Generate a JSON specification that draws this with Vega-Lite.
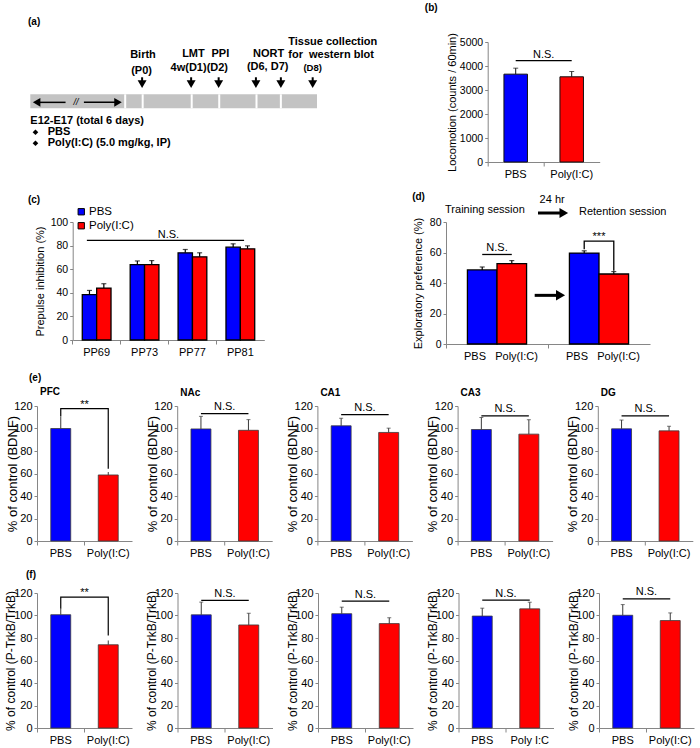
{
  "$schema": "https://vega.github.io/schema/vega-lite/v6.json",
  "background": "white",
  "padding": {"left": 3, "top": 3, "right": 2, "bottom": 2},
  "spacing": 12,
  "resolve": {"scale": {"color": "independent", "xOffset": "independent"}, "legend": {"color": "independent"}},
  "config": {
    "view": {"stroke": null},
    "font": "Liberation Sans",
    "axis": {"labelFont": "Liberation Sans", "titleFont": "Liberation Sans", "labelColor": "#000", "titleColor": "#000", "domainColor": "#868686", "tickColor": "#868686", "grid": false, "titleFontWeight": "normal", "labelOverlap": false},
    "axisX": {"labelAngle": 0, "tickSize": 4, "labelPadding": 2},
    "axisY": {"tickSize": 3, "labelPadding": 2, "titleBaseline": "middle", "tickCount": 12, "labelOverlap": false},
    "title": {"font": "Liberation Sans", "fontSize": 10, "fontWeight": "bold", "anchor": "start", "frame": "group", "color": "#000", "offset": 2},
    "text": {"font": "Liberation Sans", "color": "#000"}
  },
  "datasets": {
    "a_c": [
      {"t": "Birth", "u": 39.3, "v": -3.95},
      {"t": "(P0)", "u": 38.8, "v": -2.6},
      {"t": "LMT", "u": 56.9, "v": -3.97},
      {"t": "PPI", "u": 66.3, "v": -3.97},
      {"t": "4w(D1)(D2)", "u": 58.95, "v": -2.83},
      {"t": "NORT", "u": 83.1, "v": -4.03},
      {"t": "(D6, D7)", "u": 82.8, "v": -2.95},
      {"t": "Tissue collection", "u": 105.5, "v": -5.0},
      {"t": "for\u00a0\u00a0western blot", "u": 104.9, "v": -3.95}
    ],
    "a_l": [
      {"t": "E12-E17 (total 6 days)", "u": 0, "v": 1.55},
      {"t": "PBS", "u": 6.1, "v": 2.52},
      {"t": "Poly(I:C) (5.0 mg/kg, IP)", "u": 6.1, "v": 3.44}
    ],
    "a_seg": [{"u": 33.1}, {"u": 39.2}, {"u": 56.3}, {"u": 65.9}, {"u": 78.9}, {"u": 87.4}],
    "a_ev": [{"u": 39.0}, {"u": 56.1}, {"u": 65.7}, {"u": 78.7}, {"u": 87.4}, {"u": 98.5}],
    "b": [
      {"g": "PBS", "v": 3660, "hi": 3910},
      {"g": "Poly(I:C)", "v": 3550, "hi": 3770}
    ],
    "c": [
      {"pp": "PP69", "g": "PBS", "v": 38.4, "hi": 42},
      {"pp": "PP69", "g": "Poly(I:C)", "v": 44, "hi": 47.7},
      {"pp": "PP73", "g": "PBS", "v": 63.9, "hi": 67},
      {"pp": "PP73", "g": "Poly(I:C)", "v": 63.9, "hi": 67.3},
      {"pp": "PP77", "g": "PBS", "v": 73.9, "hi": 76.7},
      {"pp": "PP77", "g": "Poly(I:C)", "v": 70.5, "hi": 73.9},
      {"pp": "PP81", "g": "PBS", "v": 78.7, "hi": 81.5},
      {"pp": "PP81", "g": "Poly(I:C)", "v": 77.3, "hi": 79.8}
    ],
    "d": [
      {"session": "Training", "g": "PBS", "v": 48.6, "hi": 50.5},
      {"session": "Training", "g": "Poly(I:C)", "v": 52.7, "hi": 54.7},
      {"session": "Retention", "g": "PBS", "v": 59.6, "hi": 61.1},
      {"session": "Retention", "g": "Poly(I:C)", "v": 45.9, "hi": 47.5}
    ],
    "d_sig": [
      {"k": "ns", "session": "Training", "g": "PBS", "y": 58.7, "i": 1},
      {"k": "ns", "session": "Training", "g": "Poly(I:C)", "y": 58.7, "i": 2},
      {"k": "p", "session": "Retention", "g": "PBS", "y": 62.2, "i": 1},
      {"k": "p", "session": "Retention", "g": "PBS", "y": 67.5, "i": 2},
      {"k": "p", "session": "Retention", "g": "Poly(I:C)", "y": 67.5, "i": 3},
      {"k": "p", "session": "Retention", "g": "Poly(I:C)", "y": 48.0, "i": 4}
    ],
    "e": [
      {"region": "PFC", "g": "PBS", "v": 100, "hi": 110.8},
      {"region": "PFC", "g": "Poly(I:C)", "v": 58.7, "hi": 61.3},
      {"region": "NAc", "g": "PBS", "v": 99.6, "hi": 110.8},
      {"region": "NAc", "g": "Poly(I:C)", "v": 98.4, "hi": 107.9},
      {"region": "CA1", "g": "PBS", "v": 102.4, "hi": 109.1},
      {"region": "CA1", "g": "Poly(I:C)", "v": 96.5, "hi": 100.3},
      {"region": "CA3", "g": "PBS", "v": 99.1, "hi": 109.8},
      {"region": "CA3", "g": "Poly(I:C)", "v": 95, "hi": 107.8},
      {"region": "DG", "g": "PBS", "v": 99.7, "hi": 107.5},
      {"region": "DG", "g": "Poly(I:C)", "v": 97.9, "hi": 102}
    ],
    "e_sig": [
      {"region": "PFC", "g": "PBS", "y": 110.8, "i": 1},
      {"region": "PFC", "g": "PBS", "y": 117.6, "i": 2},
      {"region": "PFC", "g": "Poly(I:C)", "y": 117.6, "i": 3},
      {"region": "PFC", "g": "Poly(I:C)", "y": 64.3, "i": 4},
      {"region": "NAc", "g": "PBS", "y": 113.2, "i": 1},
      {"region": "NAc", "g": "Poly(I:C)", "y": 113.2, "i": 2},
      {"region": "CA1", "g": "PBS", "y": 112.4, "i": 1},
      {"region": "CA1", "g": "Poly(I:C)", "y": 112.4, "i": 2},
      {"region": "CA3", "g": "PBS", "y": 111.3, "i": 1},
      {"region": "CA3", "g": "Poly(I:C)", "y": 111.3, "i": 2},
      {"region": "DG", "g": "PBS", "y": 111.3, "i": 1},
      {"region": "DG", "g": "Poly(I:C)", "y": 111.3, "i": 2}
    ],
    "e_lab": [
      {"region": "PFC", "t": "**", "y": 118.2},
      {"region": "NAc", "t": "N.S.", "y": 116.4},
      {"region": "CA1", "t": "N.S.", "y": 115.6},
      {"region": "CA3", "t": "N.S.", "y": 114.5},
      {"region": "DG", "t": "N.S.", "y": 114.5}
    ],
    "f": [
      {"panel": "f1", "g": "PBS", "v": 100.7, "hi": 106},
      {"panel": "f1", "g": "Poly(I:C)", "v": 74, "hi": 77.8},
      {"panel": "f2", "g": "PBS", "v": 100.6, "hi": 111.9},
      {"panel": "f2", "g": "Poly(I:C)", "v": 91.6, "hi": 102},
      {"panel": "f3", "g": "PBS", "v": 101.6, "hi": 107.4},
      {"panel": "f3", "g": "Poly(I:C)", "v": 92.8, "hi": 98},
      {"panel": "f4", "g": "PBS", "v": 99.5, "hi": 106.5},
      {"panel": "f4", "g": "Poly I:C", "v": 105.9, "hi": 111.8},
      {"panel": "f5", "g": "PBS", "v": 100.2, "hi": 109.7},
      {"panel": "f5", "g": "Poly(I:C)", "v": 95.5, "hi": 102.3}
    ],
    "f_sig": [
      {"panel": "f1", "g": "PBS", "y": 106, "i": 1},
      {"panel": "f1", "g": "PBS", "y": 116.4, "i": 2},
      {"panel": "f1", "g": "Poly(I:C)", "y": 116.4, "i": 3},
      {"panel": "f1", "g": "Poly(I:C)", "y": 82.3, "i": 4},
      {"panel": "f2", "g": "PBS", "y": 113.4, "i": 1},
      {"panel": "f2", "g": "Poly(I:C)", "y": 113.4, "i": 2},
      {"panel": "f3", "g": "PBS", "y": 112.7, "i": 1},
      {"panel": "f3", "g": "Poly(I:C)", "y": 112.7, "i": 2},
      {"panel": "f4", "g": "PBS", "y": 113.6, "i": 1},
      {"panel": "f4", "g": "Poly I:C", "y": 113.6, "i": 2},
      {"panel": "f5", "g": "PBS", "y": 114.7, "i": 1},
      {"panel": "f5", "g": "Poly(I:C)", "y": 114.7, "i": 2}
    ],
    "f_lab": [
      {"panel": "f1", "t": "**", "y": 117},
      {"panel": "f2", "t": "N.S.", "y": 116.6},
      {"panel": "f3", "t": "N.S.", "y": 115.9},
      {"panel": "f4", "t": "N.S.", "y": 116.8},
      {"panel": "f5", "t": "N.S.", "y": 117.9}
    ]
  },
  "vconcat": [
    {
      "hconcat": [
        {
          "width": 408, "height": 120,
          "layer": [
            {"data": {"values": [{"u": 0, "u2": 100, "v": -0.64, "v2": 0.53}]},
             "mark": {"type": "rect", "fill": "#c3c3c3"},
             "encoding": {
               "x": {"field": "u", "type": "quantitative", "scale": {"domain": [2.34, 144.65], "nice": false, "zero": false}, "axis": null},
               "x2": {"field": "u2"},
               "y": {"field": "v", "type": "quantitative", "scale": {"domain": [-5, 5], "reverse": true, "nice": false, "zero": false}, "axis": null},
               "y2": {"field": "v2"}}},
            {"data": {"name": "a_seg"},
             "mark": {"type": "rule", "color": "white", "strokeWidth": 2},
             "encoding": {"x": {"field": "u", "type": "quantitative", "axis": null}, "y": {"datum": -0.64, "axis": null}, "y2": {"datum": 0.53}}},
            {"data": {"name": "a_ev"},
             "mark": {"type": "rule", "color": "black", "strokeWidth": 2},
             "encoding": {"x": {"field": "u", "type": "quantitative", "axis": null}, "y": {"datum": -2.06, "axis": null}, "y2": {"datum": -1.7}}},
            {"data": {"name": "a_ev"},
             "mark": {"type": "point", "shape": "triangle-down", "filled": true, "color": "black", "size": 80, "opacity": 1},
             "encoding": {"x": {"field": "u", "type": "quantitative", "axis": null}, "y": {"datum": -1.48, "axis": null}}},
            {"data": {"values": [{"u": 2.0, "u2": 12.3}, {"u": 18.7, "u2": 30.8}]},
             "mark": {"type": "rule", "color": "black", "strokeWidth": 1.5},
             "encoding": {"x": {"field": "u", "type": "quantitative", "axis": null}, "x2": {"field": "u2"}, "y": {"datum": 0.03, "axis": null}}},
            {"data": {"values": [{"u": 2.2, "end": "start"}, {"u": 30.6, "end": "end"}]},
             "mark": {"type": "point", "filled": true, "color": "black", "size": 75, "opacity": 1},
             "encoding": {"x": {"field": "u", "type": "quantitative", "axis": null}, "y": {"datum": 0.03, "axis": null},
               "shape": {"field": "end", "type": "nominal", "scale": {"domain": ["start", "end"], "range": ["triangle-left", "triangle-right"]}, "legend": null}}},
            {"data": {"values": [{"t": "//", "u": 15.9, "v": 0.03}]},
             "mark": {"type": "text", "fontSize": 9, "fontStyle": "italic", "baseline": "middle"},
             "encoding": {"x": {"field": "u", "type": "quantitative", "axis": null}, "y": {"field": "v", "type": "quantitative", "axis": null}, "text": {"field": "t"}}},
            {"data": {"values": [{"v": 2.52}, {"v": 3.44}]},
             "mark": {"type": "point", "shape": "diamond", "filled": true, "color": "black", "size": 32, "opacity": 1},
             "encoding": {"x": {"datum": 1.8, "axis": null}, "y": {"field": "v", "type": "quantitative", "axis": null}}},
            {"data": {"name": "a_c"},
             "mark": {"type": "text", "fontSize": 11, "fontWeight": "bold", "align": "center", "baseline": "middle"},
             "encoding": {"x": {"field": "u", "type": "quantitative", "axis": null}, "y": {"field": "v", "type": "quantitative", "axis": null}, "text": {"field": "t"}}},
            {"data": {"name": "a_l"},
             "mark": {"type": "text", "fontSize": 11, "fontWeight": "bold", "align": "left", "baseline": "middle"},
             "encoding": {"x": {"field": "u", "type": "quantitative", "axis": null}, "y": {"field": "v", "type": "quantitative", "axis": null}, "text": {"field": "t"}}},
            {"data": {"values": [{"t": "(D8)", "u": 98.5, "v": -2.81}]},
             "mark": {"type": "text", "fontSize": 9.5, "fontWeight": "bold", "align": "center", "baseline": "middle"},
             "encoding": {"x": {"field": "u", "type": "quantitative", "axis": null}, "y": {"field": "v", "type": "quantitative", "axis": null}, "text": {"field": "t"}}},
            {"data": {"values": [{"t": "(a)", "u": -0.8, "v": -6.64}]},
             "mark": {"type": "text", "fontSize": 10, "fontWeight": "bold", "align": "left", "baseline": "middle"},
             "encoding": {"x": {"field": "u", "type": "quantitative", "axis": null}, "y": {"field": "v", "type": "quantitative", "axis": null}, "text": {"field": "t"}}}
          ]
        },
        {
          "width": 112, "height": 120,
          "layer": [
            {"data": {"name": "b"},
             "mark": {"type": "bar", "stroke": "#111", "strokeWidth": 1},
             "encoding": {
               "x": {"field": "g", "type": "nominal", "scale": {"paddingInner": 0.58, "paddingOuter": 0.29}, "axis": {"title": null, "labelFontSize": 11, "bandPosition": -0.69}},
               "y": {"field": "v", "type": "quantitative", "scale": {"domain": [0, 5000]}, "axis": {"title": "Locomotion (counts / 60min)", "values": [0, 1000, 2000, 3000, 4000, 5000], "tickCount": 12, "labelOverlap": false, "format": "d", "titleX": -35, "titleFontSize": 11, "labelFontSize": 10.5}},
               "color": {"condition": {"test": "datum.g == 'PBS'", "value": "#0000ff"}, "value": "#ff0000"}}},
            {"data": {"name": "b"},
             "mark": {"type": "rule", "color": "#111", "strokeWidth": 1},
             "encoding": {"x": {"field": "g", "type": "nominal"}, "y": {"field": "v", "type": "quantitative"}, "y2": {"field": "hi"}}},
            {"data": {"name": "b"},
             "mark": {"type": "tick", "color": "#111", "size": 5, "thickness": 1},
             "encoding": {"x": {"field": "g", "type": "nominal"}, "y": {"field": "hi", "type": "quantitative"}}},
            {"data": {"values": [{"g": "PBS", "y": 4220, "i": 1}, {"g": "Poly(I:C)", "y": 4220, "i": 2}]},
             "mark": {"type": "line", "color": "black", "strokeWidth": 1.2},
             "encoding": {"x": {"field": "g", "type": "nominal"}, "y": {"field": "y", "type": "quantitative"}, "order": {"field": "i"}}},
            {"data": {"values": [{"t": "N.S.", "y": 4330}]},
             "mark": {"type": "text", "fontSize": 11, "baseline": "alphabetic"},
             "encoding": {"x": {"datum": "PBS", "bandPosition": 1.69}, "y": {"field": "y", "type": "quantitative"}, "text": {"field": "t"}}},
            {"data": {"values": [{"t": "(b)", "y": 6404}]},
             "mark": {"type": "text", "fontSize": 10, "fontWeight": "bold", "baseline": "middle"},
             "encoding": {"x": {"datum": "PBS", "bandPosition": -3.09}, "y": {"field": "y", "type": "quantitative"}, "text": {"field": "t"}}}
          ]
        }
      ],
      "spacing": 42.7,
      "bounds": "flush"
    },
    {
      "hconcat": [
        {
          "width": 227.3, "height": 118,
          "layer": [
            {"data": {"name": "c"},
             "mark": {"type": "bar", "stroke": "#000", "strokeWidth": 1.3},
             "encoding": {
               "x": {"field": "pp", "type": "nominal", "scale": {"paddingInner": 0.4, "paddingOuter": 0.2, "range": [35.7, 227.3]}, "axis": {"title": null, "labelFontSize": 11, "bandPosition": -0.333}},
               "xOffset": {"field": "g", "type": "nominal"},
               "y": {"field": "v", "type": "quantitative", "scale": {"domain": [0, 100]}, "axis": {"title": "Prepulse inhibition (%)", "values": [0, 20, 40, 60, 80, 100], "tickCount": 12, "labelOverlap": false, "offset": -35.7, "titleX": -31.7, "titleFontSize": 11, "labelFontSize": 10.5}},
               "color": {"field": "g", "type": "nominal", "scale": {"domain": ["PBS", "Poly(I:C)"], "range": ["#0000ff", "#ff0000"]},
                 "legend": {"orient": "none", "legendX": 38.5, "legendY": -16, "title": null, "symbolType": "square", "symbolSize": 40, "symbolStrokeColor": "#000", "symbolStrokeWidth": 1, "labelFontSize": 11.5, "labelFont": "Liberation Sans", "labelColor": "#000", "labelOffset": 2, "rowPadding": 1, "padding": 0}}}},
            {"data": {"name": "c"},
             "mark": {"type": "rule", "color": "#000", "strokeWidth": 1.2},
             "encoding": {"x": {"field": "pp", "type": "nominal"}, "xOffset": {"field": "g", "type": "nominal"}, "y": {"field": "v", "type": "quantitative"}, "y2": {"field": "hi"}}},
            {"data": {"name": "c"},
             "mark": {"type": "tick", "color": "#000", "size": 5, "thickness": 1.2},
             "encoding": {"x": {"field": "pp", "type": "nominal"}, "xOffset": {"field": "g", "type": "nominal"}, "y": {"field": "hi", "type": "quantitative"}}},
            {"data": {"values": [{"y": 84.4}]},
             "mark": {"type": "rule", "color": "#000", "strokeWidth": 1.3},
             "encoding": {"x": {"datum": "PP69", "bandPosition": 0.16}, "x2": {"datum": "PP81", "bandPosition": 0.63}, "y": {"field": "y", "type": "quantitative"}}},
            {"data": {"values": [{"t": "N.S.", "y": 86.2}]},
             "mark": {"type": "text", "fontSize": 11, "baseline": "alphabetic"},
             "encoding": {"x": {"datum": "PP73", "bandPosition": 1.333}, "y": {"field": "y", "type": "quantitative"}, "text": {"field": "t"}}},
            {"data": {"values": [{"t": "(c)", "y": 118.6}]},
             "mark": {"type": "text", "fontSize": 10, "fontWeight": "bold", "baseline": "middle"},
             "encoding": {"x": {"datum": "PP69", "bandPosition": -1.68}, "y": {"field": "y", "type": "quantitative"}, "text": {"field": "t"}}}
          ]
        },
        {
          "width": 204, "height": 122,
          "layer": [
            {"data": {"name": "d"},
             "mark": {"type": "bar", "stroke": "#000", "strokeWidth": 1.3},
             "encoding": {
               "x": {"field": "session", "type": "nominal", "scale": {"domain": ["Training", "Retention"], "paddingInner": 0.42, "paddingOuter": 0.21},
                 "axis": {"title": null, "labelFontSize": 11, "bandPosition": -0.361, "labelExpr": "'PBS\u00a0\u00a0\u00a0Poly(I:C)'", "labelOffset": 4}},
               "xOffset": {"field": "g", "type": "nominal"},
               "y": {"field": "v", "type": "quantitative", "scale": {"domain": [0, 80]}, "axis": {"title": "Exploratory preference (%)", "values": [0, 20, 40, 60, 80], "tickCount": 12, "labelOverlap": false, "titleX": -27.6, "titleFontSize": 11, "labelFontSize": 10.5}},
               "color": {"condition": {"test": "datum.g == 'PBS'", "value": "#0000ff"}, "value": "#ff0000"}}},
            {"data": {"name": "d"},
             "mark": {"type": "rule", "color": "#000", "strokeWidth": 1.2},
             "encoding": {"x": {"field": "session", "type": "nominal"}, "xOffset": {"field": "g", "type": "nominal"}, "y": {"field": "v", "type": "quantitative"}, "y2": {"field": "hi"}}},
            {"data": {"name": "d"},
             "mark": {"type": "tick", "color": "#000", "size": 5, "thickness": 1.2},
             "encoding": {"x": {"field": "session", "type": "nominal"}, "xOffset": {"field": "g", "type": "nominal"}, "y": {"field": "hi", "type": "quantitative"}}},
            {"data": {"name": "d_sig"},
             "mark": {"type": "line", "color": "#000", "strokeWidth": 1.3},
             "encoding": {"x": {"field": "session", "type": "nominal"}, "xOffset": {"field": "g", "type": "nominal"}, "y": {"field": "y", "type": "quantitative"}, "detail": {"field": "k"}, "order": {"field": "i"}}},
            {"data": {"values": [{"t": "N.S.", "session": "Training", "y": 60.8}, {"t": "***", "session": "Retention", "y": 68.3}]},
             "mark": {"type": "text", "fontSize": 11, "baseline": "alphabetic"},
             "encoding": {"x": {"field": "session", "type": "nominal"}, "y": {"field": "y", "type": "quantitative"}, "text": {"field": "t"}}},
            {"data": {"values": [{"y": 31.9}]},
             "mark": {"type": "rule", "color": "#000", "strokeWidth": 3},
             "encoding": {"x": {"datum": "Training", "bandPosition": 1.137}, "x2": {"datum": "Retention", "bandPosition": -0.2}, "y": {"field": "y", "type": "quantitative"}}},
            {"data": {"values": [{"y": 31.9}]},
             "mark": {"type": "point", "shape": "triangle-right", "filled": true, "color": "#000", "size": 110, "opacity": 1},
             "encoding": {"x": {"datum": "Retention", "bandPosition": -0.15}, "y": {"field": "y", "type": "quantitative"}}},
            {"data": {"values": [{"y": 85.9}]},
             "mark": {"type": "rule", "color": "#000", "strokeWidth": 3},
             "encoding": {"x": {"datum": "Training", "bandPosition": 1.193}, "x2": {"datum": "Retention", "bandPosition": -0.14}, "y": {"field": "y", "type": "quantitative"}}},
            {"data": {"values": [{"y": 85.9}]},
             "mark": {"type": "point", "shape": "triangle-right", "filled": true, "color": "#000", "size": 100, "opacity": 1},
             "encoding": {"x": {"datum": "Retention", "bandPosition": -0.095}, "y": {"field": "y", "type": "quantitative"}}},
            {"data": {"values": [{"t": "Training session", "y": 87.9}]},
             "mark": {"type": "text", "fontSize": 11, "align": "left", "baseline": "middle"},
             "encoding": {"x": {"datum": "Training", "bandPosition": -0.378}, "y": {"field": "y", "type": "quantitative"}, "text": {"field": "t"}}},
            {"data": {"values": [{"t": "24 hr", "y": 94.4}]},
             "mark": {"type": "text", "fontSize": 11, "align": "center", "baseline": "middle"},
             "encoding": {"x": {"datum": "Training", "bandPosition": 1.432}, "y": {"field": "y", "type": "quantitative"}, "text": {"field": "t"}}},
            {"data": {"values": [{"t": "Retention session", "y": 86.6}]},
             "mark": {"type": "text", "fontSize": 11, "align": "left", "baseline": "middle"},
             "encoding": {"x": {"datum": "Retention", "bandPosition": 0.162}, "y": {"field": "y", "type": "quantitative"}, "text": {"field": "t"}}},
            {"data": {"values": [{"t": "(d)", "y": 96.4}]},
             "mark": {"type": "text", "fontSize": 10, "fontWeight": "bold", "align": "center", "baseline": "middle"},
             "encoding": {"x": {"datum": "Training", "bandPosition": -0.826}, "y": {"field": "y", "type": "quantitative"}, "text": {"field": "t"}}}
          ]
        }
      ],
      "spacing": 181,
      "bounds": "flush",
      "resolve": {"scale": {"color": "independent", "xOffset": "independent"}, "legend": {"color": "independent"}}
    },
    {
      "title": {"text": "(e)", "dx": -8, "offset": 4},
      "hconcat": [
        {
          "width": 95, "height": 135,
          "title": {"text": "PFC", "dx": 3},
          "layer": [
            {"data": {"name": "e"}, "transform": [{"filter": "datum.region == 'PFC'"}],
             "mark": {"type": "bar", "stroke": "#3a3a3a", "strokeWidth": 0.8},
             "encoding": {
               "x": {"field": "g", "type": "nominal", "scale": {"paddingInner": 0.58, "paddingOuter": 0.29}, "axis": {"title": null, "labelFontSize": 11, "bandPosition": -0.69}},
               "y": {"field": "v", "type": "quantitative", "scale": {"domain": [0, 120]}, "axis": {"title": "% of control (BDNF)", "values": [0, 20, 40, 60, 80, 100, 120], "tickCount": 12, "labelOverlap": false, "titleX": -25, "titleFontSize": 13, "labelFontSize": 11}},
               "color": {"condition": {"test": "datum.g == 'PBS'", "value": "#0000ff"}, "value": "#ff0000"}}},
            {"data": {"name": "e"}, "transform": [{"filter": "datum.region == 'PFC'"}],
             "mark": {"type": "rule", "color": "#3a3a3a"},
             "encoding": {"x": {"field": "g", "type": "nominal"}, "y": {"field": "v", "type": "quantitative"}, "y2": {"field": "hi"}}},
            {"data": {"name": "e_sig"}, "transform": [{"filter": "datum.region == 'PFC'"}],
             "mark": {"type": "line", "color": "#000", "strokeWidth": 1.2},
             "encoding": {"x": {"field": "g", "type": "nominal"}, "y": {"field": "y", "type": "quantitative"}, "order": {"field": "i"}}},
            {"data": {"name": "e_lab"}, "transform": [{"filter": "datum.region == 'PFC'"}],
             "mark": {"type": "text", "fontSize": 11, "baseline": "alphabetic"},
             "encoding": {"x": {"datum": "PBS", "bandPosition": 1.69}, "y": {"field": "y", "type": "quantitative"}, "text": {"field": "t"}}}
          ]
        },
        {
          "width": 95, "height": 135,
          "title": {"text": "NAc", "dx": 3},
          "layer": [
            {"data": {"name": "e"}, "transform": [{"filter": "datum.region == 'NAc'"}],
             "mark": {"type": "bar", "stroke": "#3a3a3a", "strokeWidth": 0.8},
             "encoding": {
               "x": {"field": "g", "type": "nominal", "scale": {"paddingInner": 0.58, "paddingOuter": 0.29}, "axis": {"title": null, "labelFontSize": 11, "bandPosition": -0.69}},
               "y": {"field": "v", "type": "quantitative", "scale": {"domain": [0, 120]}, "axis": {"title": "% of control (BDNF)", "values": [0, 20, 40, 60, 80, 100, 120], "tickCount": 12, "labelOverlap": false, "titleX": -25, "titleFontSize": 13, "labelFontSize": 11}},
               "color": {"condition": {"test": "datum.g == 'PBS'", "value": "#0000ff"}, "value": "#ff0000"}}},
            {"data": {"name": "e"}, "transform": [{"filter": "datum.region == 'NAc'"}],
             "mark": {"type": "rule", "color": "#3a3a3a"},
             "encoding": {"x": {"field": "g", "type": "nominal"}, "y": {"field": "v", "type": "quantitative"}, "y2": {"field": "hi"}}},
            {"data": {"name": "e"}, "transform": [{"filter": "datum.region == 'NAc'"}],
             "mark": {"type": "tick", "color": "#3a3a3a", "size": 4, "thickness": 1},
             "encoding": {"x": {"field": "g", "type": "nominal"}, "y": {"field": "hi", "type": "quantitative"}}},
            {"data": {"name": "e_sig"}, "transform": [{"filter": "datum.region == 'NAc'"}],
             "mark": {"type": "line", "color": "#000", "strokeWidth": 1.2},
             "encoding": {"x": {"field": "g", "type": "nominal"}, "y": {"field": "y", "type": "quantitative"}, "order": {"field": "i"}}},
            {"data": {"name": "e_lab"}, "transform": [{"filter": "datum.region == 'NAc'"}],
             "mark": {"type": "text", "fontSize": 11, "baseline": "alphabetic"},
             "encoding": {"x": {"datum": "PBS", "bandPosition": 1.69}, "y": {"field": "y", "type": "quantitative"}, "text": {"field": "t"}}}
          ]
        },
        {
          "width": 95, "height": 135,
          "title": {"text": "CA1", "dx": 3},
          "layer": [
            {"data": {"name": "e"}, "transform": [{"filter": "datum.region == 'CA1'"}],
             "mark": {"type": "bar", "stroke": "#3a3a3a", "strokeWidth": 0.8},
             "encoding": {
               "x": {"field": "g", "type": "nominal", "scale": {"paddingInner": 0.58, "paddingOuter": 0.29}, "axis": {"title": null, "labelFontSize": 11, "bandPosition": -0.69}},
               "y": {"field": "v", "type": "quantitative", "scale": {"domain": [0, 120]}, "axis": {"title": "% of control (BDNF)", "values": [0, 20, 40, 60, 80, 100, 120], "tickCount": 12, "labelOverlap": false, "titleX": -25, "titleFontSize": 13, "labelFontSize": 11}},
               "color": {"condition": {"test": "datum.g == 'PBS'", "value": "#0000ff"}, "value": "#ff0000"}}},
            {"data": {"name": "e"}, "transform": [{"filter": "datum.region == 'CA1'"}],
             "mark": {"type": "rule", "color": "#3a3a3a"},
             "encoding": {"x": {"field": "g", "type": "nominal"}, "y": {"field": "v", "type": "quantitative"}, "y2": {"field": "hi"}}},
            {"data": {"name": "e"}, "transform": [{"filter": "datum.region == 'CA1'"}],
             "mark": {"type": "tick", "color": "#3a3a3a", "size": 4, "thickness": 1},
             "encoding": {"x": {"field": "g", "type": "nominal"}, "y": {"field": "hi", "type": "quantitative"}}},
            {"data": {"name": "e_sig"}, "transform": [{"filter": "datum.region == 'CA1'"}],
             "mark": {"type": "line", "color": "#000", "strokeWidth": 1.2},
             "encoding": {"x": {"field": "g", "type": "nominal"}, "y": {"field": "y", "type": "quantitative"}, "order": {"field": "i"}}},
            {"data": {"name": "e_lab"}, "transform": [{"filter": "datum.region == 'CA1'"}],
             "mark": {"type": "text", "fontSize": 11, "baseline": "alphabetic"},
             "encoding": {"x": {"datum": "PBS", "bandPosition": 1.69}, "y": {"field": "y", "type": "quantitative"}, "text": {"field": "t"}}}
          ]
        },
        {
          "width": 95, "height": 135,
          "title": {"text": "CA3", "dx": 3},
          "layer": [
            {"data": {"name": "e"}, "transform": [{"filter": "datum.region == 'CA3'"}],
             "mark": {"type": "bar", "stroke": "#3a3a3a", "strokeWidth": 0.8},
             "encoding": {
               "x": {"field": "g", "type": "nominal", "scale": {"paddingInner": 0.58, "paddingOuter": 0.29}, "axis": {"title": null, "labelFontSize": 11, "bandPosition": -0.69}},
               "y": {"field": "v", "type": "quantitative", "scale": {"domain": [0, 120]}, "axis": {"title": "% of control (BDNF)", "values": [0, 20, 40, 60, 80, 100, 120], "tickCount": 12, "labelOverlap": false, "titleX": -25, "titleFontSize": 13, "labelFontSize": 11}},
               "color": {"condition": {"test": "datum.g == 'PBS'", "value": "#0000ff"}, "value": "#ff0000"}}},
            {"data": {"name": "e"}, "transform": [{"filter": "datum.region == 'CA3'"}],
             "mark": {"type": "rule", "color": "#3a3a3a"},
             "encoding": {"x": {"field": "g", "type": "nominal"}, "y": {"field": "v", "type": "quantitative"}, "y2": {"field": "hi"}}},
            {"data": {"name": "e"}, "transform": [{"filter": "datum.region == 'CA3'"}],
             "mark": {"type": "tick", "color": "#3a3a3a", "size": 4, "thickness": 1},
             "encoding": {"x": {"field": "g", "type": "nominal"}, "y": {"field": "hi", "type": "quantitative"}}},
            {"data": {"name": "e_sig"}, "transform": [{"filter": "datum.region == 'CA3'"}],
             "mark": {"type": "line", "color": "#000", "strokeWidth": 1.2},
             "encoding": {"x": {"field": "g", "type": "nominal"}, "y": {"field": "y", "type": "quantitative"}, "order": {"field": "i"}}},
            {"data": {"name": "e_lab"}, "transform": [{"filter": "datum.region == 'CA3'"}],
             "mark": {"type": "text", "fontSize": 11, "baseline": "alphabetic"},
             "encoding": {"x": {"datum": "PBS", "bandPosition": 1.69}, "y": {"field": "y", "type": "quantitative"}, "text": {"field": "t"}}}
          ]
        },
        {
          "width": 95, "height": 135,
          "title": {"text": "DG", "dx": 3},
          "layer": [
            {"data": {"name": "e"}, "transform": [{"filter": "datum.region == 'DG'"}],
             "mark": {"type": "bar", "stroke": "#3a3a3a", "strokeWidth": 0.8},
             "encoding": {
               "x": {"field": "g", "type": "nominal", "scale": {"paddingInner": 0.58, "paddingOuter": 0.29}, "axis": {"title": null, "labelFontSize": 11, "bandPosition": -0.69}},
               "y": {"field": "v", "type": "quantitative", "scale": {"domain": [0, 120]}, "axis": {"title": "% of control (BDNF)", "values": [0, 20, 40, 60, 80, 100, 120], "tickCount": 12, "labelOverlap": false, "titleX": -25, "titleFontSize": 13, "labelFontSize": 11}},
               "color": {"condition": {"test": "datum.g == 'PBS'", "value": "#0000ff"}, "value": "#ff0000"}}},
            {"data": {"name": "e"}, "transform": [{"filter": "datum.region == 'DG'"}],
             "mark": {"type": "rule", "color": "#3a3a3a"},
             "encoding": {"x": {"field": "g", "type": "nominal"}, "y": {"field": "v", "type": "quantitative"}, "y2": {"field": "hi"}}},
            {"data": {"name": "e"}, "transform": [{"filter": "datum.region == 'DG'"}],
             "mark": {"type": "tick", "color": "#3a3a3a", "size": 4, "thickness": 1},
             "encoding": {"x": {"field": "g", "type": "nominal"}, "y": {"field": "hi", "type": "quantitative"}}},
            {"data": {"name": "e_sig"}, "transform": [{"filter": "datum.region == 'DG'"}],
             "mark": {"type": "line", "color": "#000", "strokeWidth": 1.2},
             "encoding": {"x": {"field": "g", "type": "nominal"}, "y": {"field": "y", "type": "quantitative"}, "order": {"field": "i"}}},
            {"data": {"name": "e_lab"}, "transform": [{"filter": "datum.region == 'DG'"}],
             "mark": {"type": "text", "fontSize": 11, "baseline": "alphabetic"},
             "encoding": {"x": {"datum": "PBS", "bandPosition": 1.69}, "y": {"field": "y", "type": "quantitative"}, "text": {"field": "t"}}}
          ]
        }
      ],
      "spacing": 45.2,
      "bounds": "flush"
    },
    {
      "title": {"text": "(f)", "dx": -11, "offset": 6},
      "hconcat": [
        {
          "width": 95, "height": 135,
          "layer": [
            {"data": {"name": "f"}, "transform": [{"filter": "datum.panel == 'f1'"}],
             "mark": {"type": "bar", "stroke": "#3a3a3a", "strokeWidth": 0.8},
             "encoding": {
               "x": {"field": "g", "type": "nominal", "scale": {"paddingInner": 0.58, "paddingOuter": 0.29}, "axis": {"title": null, "labelFontSize": 11, "bandPosition": -0.69}},
               "y": {"field": "v", "type": "quantitative", "scale": {"domain": [0, 120]}, "axis": {"title": "% of control (P-TrkB/TrkB)", "values": [0, 20, 40, 60, 80, 100, 120], "tickCount": 12, "labelOverlap": false, "titleX": -27, "titleFontSize": 12, "labelFontSize": 11}},
               "color": {"condition": {"test": "datum.g == 'PBS'", "value": "#0000ff"}, "value": "#ff0000"}}},
            {"data": {"name": "f"}, "transform": [{"filter": "datum.panel == 'f1'"}],
             "mark": {"type": "rule", "color": "#3a3a3a"},
             "encoding": {"x": {"field": "g", "type": "nominal"}, "y": {"field": "v", "type": "quantitative"}, "y2": {"field": "hi"}}},
            {"data": {"name": "f_sig"}, "transform": [{"filter": "datum.panel == 'f1'"}],
             "mark": {"type": "line", "color": "#000", "strokeWidth": 1.2},
             "encoding": {"x": {"field": "g", "type": "nominal"}, "y": {"field": "y", "type": "quantitative"}, "order": {"field": "i"}}},
            {"data": {"name": "f_lab"}, "transform": [{"filter": "datum.panel == 'f1'"}],
             "mark": {"type": "text", "fontSize": 11, "baseline": "alphabetic"},
             "encoding": {"x": {"datum": "PBS", "bandPosition": 1.69}, "y": {"field": "y", "type": "quantitative"}, "text": {"field": "t"}}}
          ]
        },
        {
          "width": 95, "height": 135,
          "layer": [
            {"data": {"name": "f"}, "transform": [{"filter": "datum.panel == 'f2'"}],
             "mark": {"type": "bar", "stroke": "#3a3a3a", "strokeWidth": 0.8},
             "encoding": {
               "x": {"field": "g", "type": "nominal", "scale": {"paddingInner": 0.58, "paddingOuter": 0.29}, "axis": {"title": null, "labelFontSize": 11, "bandPosition": -0.69}},
               "y": {"field": "v", "type": "quantitative", "scale": {"domain": [0, 120]}, "axis": {"title": "% of control (P-TrkB/TrkB)", "values": [0, 20, 40, 60, 80, 100, 120], "tickCount": 12, "labelOverlap": false, "titleX": -26, "titleFontSize": 12, "labelFontSize": 11}},
               "color": {"condition": {"test": "datum.g == 'PBS'", "value": "#0000ff"}, "value": "#ff0000"}}},
            {"data": {"name": "f"}, "transform": [{"filter": "datum.panel == 'f2'"}],
             "mark": {"type": "rule", "color": "#3a3a3a"},
             "encoding": {"x": {"field": "g", "type": "nominal"}, "y": {"field": "v", "type": "quantitative"}, "y2": {"field": "hi"}}},
            {"data": {"name": "f"}, "transform": [{"filter": "datum.panel == 'f2'"}],
             "mark": {"type": "tick", "color": "#3a3a3a", "size": 4, "thickness": 1},
             "encoding": {"x": {"field": "g", "type": "nominal"}, "y": {"field": "hi", "type": "quantitative"}}},
            {"data": {"name": "f_sig"}, "transform": [{"filter": "datum.panel == 'f2'"}],
             "mark": {"type": "line", "color": "#000", "strokeWidth": 1.2},
             "encoding": {"x": {"field": "g", "type": "nominal"}, "y": {"field": "y", "type": "quantitative"}, "order": {"field": "i"}}},
            {"data": {"name": "f_lab"}, "transform": [{"filter": "datum.panel == 'f2'"}],
             "mark": {"type": "text", "fontSize": 11, "baseline": "alphabetic"},
             "encoding": {"x": {"datum": "PBS", "bandPosition": 1.69}, "y": {"field": "y", "type": "quantitative"}, "text": {"field": "t"}}}
          ]
        },
        {
          "width": 95, "height": 135,
          "layer": [
            {"data": {"name": "f"}, "transform": [{"filter": "datum.panel == 'f3'"}],
             "mark": {"type": "bar", "stroke": "#3a3a3a", "strokeWidth": 0.8},
             "encoding": {
               "x": {"field": "g", "type": "nominal", "scale": {"paddingInner": 0.58, "paddingOuter": 0.29}, "axis": {"title": null, "labelFontSize": 11, "bandPosition": -0.69}},
               "y": {"field": "v", "type": "quantitative", "scale": {"domain": [0, 120]}, "axis": {"title": "% of control (P-TrkB/TrkB)", "values": [0, 20, 40, 60, 80, 100, 120], "tickCount": 12, "labelOverlap": false, "titleX": -26, "titleFontSize": 12, "labelFontSize": 11}},
               "color": {"condition": {"test": "datum.g == 'PBS'", "value": "#0000ff"}, "value": "#ff0000"}}},
            {"data": {"name": "f"}, "transform": [{"filter": "datum.panel == 'f3'"}],
             "mark": {"type": "rule", "color": "#3a3a3a"},
             "encoding": {"x": {"field": "g", "type": "nominal"}, "y": {"field": "v", "type": "quantitative"}, "y2": {"field": "hi"}}},
            {"data": {"name": "f"}, "transform": [{"filter": "datum.panel == 'f3'"}],
             "mark": {"type": "tick", "color": "#3a3a3a", "size": 4, "thickness": 1},
             "encoding": {"x": {"field": "g", "type": "nominal"}, "y": {"field": "hi", "type": "quantitative"}}},
            {"data": {"name": "f_sig"}, "transform": [{"filter": "datum.panel == 'f3'"}],
             "mark": {"type": "line", "color": "#000", "strokeWidth": 1.2},
             "encoding": {"x": {"field": "g", "type": "nominal"}, "y": {"field": "y", "type": "quantitative"}, "order": {"field": "i"}}},
            {"data": {"name": "f_lab"}, "transform": [{"filter": "datum.panel == 'f3'"}],
             "mark": {"type": "text", "fontSize": 11, "baseline": "alphabetic"},
             "encoding": {"x": {"datum": "PBS", "bandPosition": 1.69}, "y": {"field": "y", "type": "quantitative"}, "text": {"field": "t"}}}
          ]
        },
        {
          "width": 95, "height": 135,
          "layer": [
            {"data": {"name": "f"}, "transform": [{"filter": "datum.panel == 'f4'"}],
             "mark": {"type": "bar", "stroke": "#3a3a3a", "strokeWidth": 0.8},
             "encoding": {
               "x": {"field": "g", "type": "nominal", "scale": {"paddingInner": 0.58, "paddingOuter": 0.29}, "axis": {"title": null, "labelFontSize": 11, "bandPosition": -0.69}},
               "y": {"field": "v", "type": "quantitative", "scale": {"domain": [0, 120]}, "axis": {"title": "% of control (P-TrkB/TrkB)", "values": [0, 20, 40, 60, 80, 100, 120], "tickCount": 12, "labelOverlap": false, "titleX": -26, "titleFontSize": 12, "labelFontSize": 11}},
               "color": {"condition": {"test": "datum.g == 'PBS'", "value": "#0000ff"}, "value": "#ff0000"}}},
            {"data": {"name": "f"}, "transform": [{"filter": "datum.panel == 'f4'"}],
             "mark": {"type": "rule", "color": "#3a3a3a"},
             "encoding": {"x": {"field": "g", "type": "nominal"}, "y": {"field": "v", "type": "quantitative"}, "y2": {"field": "hi"}}},
            {"data": {"name": "f"}, "transform": [{"filter": "datum.panel == 'f4'"}],
             "mark": {"type": "tick", "color": "#3a3a3a", "size": 4, "thickness": 1},
             "encoding": {"x": {"field": "g", "type": "nominal"}, "y": {"field": "hi", "type": "quantitative"}}},
            {"data": {"name": "f_sig"}, "transform": [{"filter": "datum.panel == 'f4'"}],
             "mark": {"type": "line", "color": "#000", "strokeWidth": 1.2},
             "encoding": {"x": {"field": "g", "type": "nominal"}, "y": {"field": "y", "type": "quantitative"}, "order": {"field": "i"}}},
            {"data": {"name": "f_lab"}, "transform": [{"filter": "datum.panel == 'f4'"}],
             "mark": {"type": "text", "fontSize": 11, "baseline": "alphabetic"},
             "encoding": {"x": {"datum": "PBS", "bandPosition": 1.69}, "y": {"field": "y", "type": "quantitative"}, "text": {"field": "t"}}}
          ]
        },
        {
          "width": 95, "height": 135,
          "layer": [
            {"data": {"name": "f"}, "transform": [{"filter": "datum.panel == 'f5'"}],
             "mark": {"type": "bar", "stroke": "#3a3a3a", "strokeWidth": 0.8},
             "encoding": {
               "x": {"field": "g", "type": "nominal", "scale": {"paddingInner": 0.58, "paddingOuter": 0.29}, "axis": {"title": null, "labelFontSize": 11, "bandPosition": -0.69}},
               "y": {"field": "v", "type": "quantitative", "scale": {"domain": [0, 120]}, "axis": {"title": "% of control (P-TrkB/TrkB)", "values": [0, 20, 40, 60, 80, 100, 120], "tickCount": 12, "labelOverlap": false, "titleX": -26, "titleFontSize": 12, "labelFontSize": 11}},
               "color": {"condition": {"test": "datum.g == 'PBS'", "value": "#0000ff"}, "value": "#ff0000"}}},
            {"data": {"name": "f"}, "transform": [{"filter": "datum.panel == 'f5'"}],
             "mark": {"type": "rule", "color": "#3a3a3a"},
             "encoding": {"x": {"field": "g", "type": "nominal"}, "y": {"field": "v", "type": "quantitative"}, "y2": {"field": "hi"}}},
            {"data": {"name": "f"}, "transform": [{"filter": "datum.panel == 'f5'"}],
             "mark": {"type": "tick", "color": "#3a3a3a", "size": 4, "thickness": 1},
             "encoding": {"x": {"field": "g", "type": "nominal"}, "y": {"field": "hi", "type": "quantitative"}}},
            {"data": {"name": "f_sig"}, "transform": [{"filter": "datum.panel == 'f5'"}],
             "mark": {"type": "line", "color": "#000", "strokeWidth": 1.2},
             "encoding": {"x": {"field": "g", "type": "nominal"}, "y": {"field": "y", "type": "quantitative"}, "order": {"field": "i"}}},
            {"data": {"name": "f_lab"}, "transform": [{"filter": "datum.panel == 'f5'"}],
             "mark": {"type": "text", "fontSize": 11, "baseline": "alphabetic"},
             "encoding": {"x": {"datum": "PBS", "bandPosition": 1.69}, "y": {"field": "y", "type": "quantitative"}, "text": {"field": "t"}}}
          ]
        }
      ],
      "spacing": 45.5,
      "bounds": "flush"
    }
  ]
}
